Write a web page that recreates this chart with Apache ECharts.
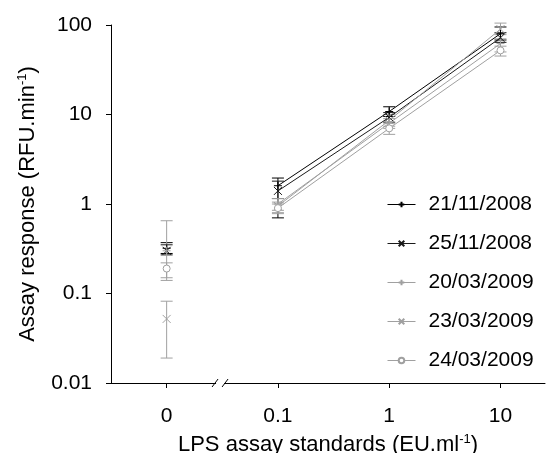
<!DOCTYPE html>
<html><head><meta charset="utf-8">
<script src="https://cdn.jsdelivr.net/npm/echarts@6/dist/echarts.min.js"></script>
<style>html,body{margin:0;padding:0;background:#fff}#c{width:547px;height:453px}</style>
</head><body><div id="c"></div>
<script>
// x positions (equally spaced, broken axis) and their tick labels
const xPositions = [0, 1, 2, 3];
const xTickLabels = ['0', '0.1', '1', '10'];
const yTickValues = [0.01, 0.1, 1, 10, 100];

const seriesNames = ['21/11/2008', '25/11/2008', '20/03/2009', '23/03/2009', '24/03/2009'];
const s1 = [0.32, 1.6, 10.8, 80];
const s2 = [0.30, 1.4, 9.3, 72];
const s3 = [0.30, 1.0, 8.0, 62];
const s4 = [0.052, 0.95, 8.6, 90];
const s5 = [0.19, 0.9, 7.0, 52];
const s1Up = [0.37, 1.95, 12.2, 95],  s1Lo = [0.28, 0.70, 9.5, 68];
const s2Up = [0.35, 1.8, 10.5, 82],   s2Lo = [0.27, 1.15, 8.2, 64];
const s3Up = [0.65, 1.15, 9.0, 70],   s3Lo = [0.15, 0.80, 7.0, 50];
const s4Up = [0.082, 1.05, 10.0, 105], s4Lo = [0.019, 0.85, 7.4, 78];
const s5Up = [0.22, 1.0, 8.0, 58],    s5Lo = [0.14, 0.78, 6.0, 45];

const values = [s1, s2, s3, s4, s5];
const ups = [s1Up, s2Up, s3Up, s4Up, s5Up];
const lows = [s1Lo, s2Lo, s3Lo, s4Lo, s5Lo];
const colors = ['#000000', '#1a1a1a', '#a0a0a0', '#a0a0a0', '#a0a0a0'];
const PLUS = 'path://M0,5L10,5M5,0L5,10';
const CROSS = 'path://M0,0L10,10M10,0L0,10';
const symbols = [PLUS, CROSS, PLUS, CROSS, 'circle'];
const FONT = 'Liberation Sans, Arial, sans-serif';

const chart = echarts.init(document.getElementById('c'), null, {renderer: 'canvas'});
const series = [];
values.forEach((vals, i) => {
  const data = [];
  vals.forEach((v, j) => {
    data.push([xPositions[j], v]);
    if (j === 0) data.push([0.5, '-']);
  });
  series.push({
    name: seriesNames[i], type: 'line', data: data, connectNulls: false,
    symbol: symbols[i], symbolSize: symbols[i] === 'circle' ? 7 : 8, showSymbol: true, showAllSymbol: true,
    lineStyle: {color: colors[i], width: 1},
    itemStyle: {color: symbols[i] === 'circle' ? '#fff' : 'rgba(0,0,0,0)', borderColor: colors[i], borderWidth: 1},
    emphasis: {disabled: true}, animation: false, z: 3
  });
  const ebData = vals.map((v, j) => [xPositions[j], lows[i][j], ups[i][j]]);
  series.push({
    name: 'err' + i, type: 'custom', data: ebData, animation: false, z: 2,
    encode: {x: 0, y: [1, 2]},
    renderItem: (params, api) => {
      const x = api.value(0);
      const lo = api.coord([x, api.value(1)]);
      const hi = api.coord([x, api.value(2)]);
      const hw = 6;
      const st = {stroke: colors[i], lineWidth: 1};
      return {type: 'group', children: [
        {type: 'line', shape: {x1: lo[0], y1: lo[1], x2: hi[0], y2: hi[1]}, style: st},
        {type: 'line', shape: {x1: lo[0] - hw, y1: lo[1], x2: lo[0] + hw, y2: lo[1]}, style: st},
        {type: 'line', shape: {x1: hi[0] - hw, y1: hi[1], x2: hi[0] + hw, y2: hi[1]}, style: st}
      ]};
    }
  });
});

chart.setOption({
  animation: false,
  backgroundColor: '#fff',
  textStyle: {fontFamily: FONT},
  grid: {left: 111, top: 25, right: 2, bottom: 70, containLabel: false, outerBoundsMode: 'none'},
  legend: {
    orient: 'vertical', left: 382, top: 189, itemWidth: 28, itemHeight: 7, itemGap: 18,
    data: seriesNames, selectedMode: false,
    lineStyle: {width: 1},
    textStyle: {fontSize: 21, color: '#000', fontFamily: FONT, padding: [0, 0, 0, 8]}
  },
  xAxis: {
    type: 'value', min: -0.5, max: 3.4,
    name: 'LPS assay standards (EU.ml{sup|-1})', nameLocation: 'middle', nameGap: 50,
    nameTextStyle: {fontSize: 22, color: '#000', fontFamily: FONT,
      rich: {sup: {fontSize: 13, verticalAlign: 'top', padding: [0, 0, 10, 0], color: '#000', fontFamily: FONT}}},
    axisLine: {show: true, onZero: false, lineStyle: {color: '#000', width: 1}},
    axisTick: {show: true, length: 5, inside: false, customValues: xPositions, lineStyle: {color: '#000'}},
    axisLabel: {fontSize: 21, color: '#000', margin: 23, customValues: xPositions,
      formatter: (v) => xTickLabels[xPositions.indexOf(Math.round(v))] ?? ''},
    splitLine: {show: false}
  },
  yAxis: {
    type: 'log', logBase: 10, min: 0.01, max: 100,
    name: 'Assay response (RFU.min{sup|-1})', nameLocation: 'middle', nameGap: 72,
    nameTextStyle: {fontSize: 22, color: '#000', fontFamily: FONT,
      rich: {sup: {fontSize: 13, verticalAlign: 'top', padding: [0, 0, 10, 0], color: '#000', fontFamily: FONT}}},
    axisLine: {show: true, onZero: false, lineStyle: {color: '#000', width: 1}},
    axisTick: {show: true, length: 5, lineStyle: {color: '#000'}},
    minorTick: {show: false},
    axisLabel: {fontSize: 21, color: '#000', margin: 19,
      formatter: (v) => { const r = yTickValues.find(t => Math.abs(Math.log10(t) - Math.log10(v)) < 1e-6); return r === undefined ? '' : String(r); }},
    splitLine: {show: false}
  },
  series: series
});

// axis break marks on x axis
const bx = chart.convertToPixel({xAxisIndex: 0}, 0.48);
const by = chart.convertToPixel({yAxisIndex: 0}, 0.01);
chart.setOption({graphic: [
  {type: 'rect', shape: {x: bx - 4, y: by - 2, width: 8, height: 4}, style: {fill: '#fff'}, z: 100},
  {type: 'line', shape: {x1: bx - 8, y1: by + 4, x2: bx - 2, y2: by - 4}, style: {stroke: '#000', lineWidth: 1}, z: 101},
  {type: 'line', shape: {x1: bx + 2, y1: by + 4, x2: bx + 8, y2: by - 4}, style: {stroke: '#000', lineWidth: 1}, z: 101}
]});
</script></body></html>
